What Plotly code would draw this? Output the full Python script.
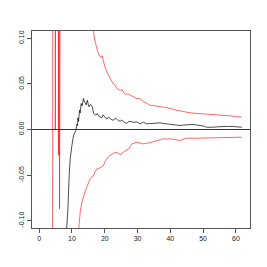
import plotly.graph_objects as go

# running estimate (black)
est_x = [8.0, 8.75, 9.15, 9.45, 9.97, 10.46, 11.2, 11.5, 11.7, 11.8, 12.0, 12.3, 12.5, 12.8, 13.1, 13.5, 13.8, 14.0, 14.3, 14.7, 15.0, 15.2, 15.6, 16.1, 16.4, 16.6, 17.3, 17.7, 18.1, 18.6, 19.1, 19.5, 19.9, 20.6, 21.1, 21.6, 22.2, 22.7, 23.2, 23.7, 24.2, 24.7, 25.2, 25.7, 26.2, 26.7, 27.2, 27.7, 28.7, 29.8, 30.8, 31.8, 32.8, 33.8, 34.8, 35.9, 36.9, 37.9, 38.9, 40.0, 40.9, 42.0, 43.0, 44.0, 45.0, 46.0, 47.0, 48.0, 49.1, 50.1, 51.1, 52.1, 53.1, 54.6, 56.2, 57.7, 59.2, 60.5, 61.8]
est_y = [-0.13, -0.087, -0.050, -0.032, -0.0175, -0.0066, -0.001, 0.006, 0.0044, 0.0128, 0.009, 0.0212, 0.018, 0.0285, 0.026, 0.034, 0.030, 0.0296, 0.027, 0.0321, 0.027, 0.0249, 0.0275, 0.026, 0.021, 0.0175, 0.0157, 0.0175, 0.015, 0.014, 0.0128, 0.016, 0.0139, 0.0113, 0.0135, 0.012, 0.0105, 0.0102, 0.0125, 0.0113, 0.0095, 0.0091, 0.0105, 0.0084, 0.0075, 0.0066, 0.0085, 0.0091, 0.0078, 0.0084, 0.0062, 0.008, 0.0062, 0.0066, 0.0062, 0.0068, 0.0073, 0.0066, 0.0062, 0.0058, 0.0051, 0.0048, 0.0044, 0.0049, 0.0051, 0.0055, 0.0055, 0.005, 0.0047, 0.0038, 0.0025, 0.0024, 0.0025, 0.003, 0.0036, 0.0034, 0.0033, 0.003, 0.0025]

# upper band (red)
up_x = [4.0, 4.2, 4.88, 4.93, 4.98, 16.4, 16.55, 16.9, 17.3, 17.8, 18.3, 18.9, 19.2, 19.5, 20.0, 20.6, 21.4, 22.2, 23.0, 23.7, 24.2, 24.7, 25.2, 25.7, 26.2, 27.0, 27.7, 28.7, 29.8, 30.8, 31.8, 32.8, 33.8, 34.8, 35.9, 36.9, 37.9, 38.9, 40.0, 40.9, 42.0, 43.0, 44.0, 45.0, 46.0, 47.0, 48.0, 49.1, 50.6, 52.1, 53.6, 55.2, 56.7, 58.2, 60.0, 61.8]
up_y = [-0.6, 0.6, 0.6, 0.0, 0.6, 0.6, 0.1075, 0.099, 0.0924, 0.086, 0.0815, 0.079, 0.081, 0.0757, 0.069, 0.0633, 0.057, 0.0523, 0.049, 0.045, 0.044, 0.0428, 0.044, 0.0413, 0.0384, 0.039, 0.0376, 0.036, 0.034, 0.0337, 0.0304, 0.0288, 0.0266, 0.0263, 0.0258, 0.0252, 0.0248, 0.0245, 0.0232, 0.0219, 0.021, 0.0201, 0.0193, 0.0186, 0.0183, 0.0179, 0.0177, 0.0175, 0.017, 0.0164, 0.016, 0.0157, 0.0153, 0.015, 0.0142, 0.0135]

# lower band (red)
lo_x = [5.8, 5.87, 5.94, None, 6.1, 6.2, 6.3, 6.75, None, 11.9, 12.5, 13.0, 13.5, 14.0, 14.5, 15.0, 15.5, 16.0, 16.6, 17.1, 17.6, 18.1, 18.8, 19.6, 20.1, 20.6, 21.1, 21.6, 22.6, 23.7, 24.2, 24.7, 25.2, 25.7, 26.5, 27.2, 28.3, 29.0, 29.8, 30.8, 31.8, 32.8, 33.8, 34.8, 35.9, 36.9, 37.9, 39.0, 40.0, 41.5, 43.0, 44.0, 45.0, 47.0, 49.1, 50.6, 52.1, 53.6, 55.2, 56.7, 58.2, 60.0, 61.8]
lo_y = [0.6, -0.028, 0.6, None, 0.6, -0.087, -0.07, 0.6, None, -0.115, -0.0907, -0.08, -0.0724, -0.068, -0.0633, -0.058, -0.054, -0.052, -0.0504, -0.046, -0.0431, -0.043, -0.041, -0.0395, -0.035, -0.0321, -0.030, -0.0285, -0.026, -0.0249, -0.026, -0.0277, -0.026, -0.0249, -0.023, -0.0212, -0.0157, -0.0145, -0.0139, -0.015, -0.0157, -0.015, -0.0146, -0.0133, -0.0121, -0.011, -0.0102, -0.0104, -0.0102, -0.011, -0.0121, -0.0105, -0.0095, -0.0096, -0.0095, -0.0094, -0.0095, -0.0092, -0.0091, -0.0088, -0.0084, -0.0085, -0.0084]

x_ticks = [0, 10, 20, 30, 40, 50, 60]
y_ticks = [-0.10, -0.05, 0.00, 0.05, 0.10]

fig = go.Figure()
fig.add_trace(go.Scatter(x=up_x, y=up_y, mode="lines", line=dict(color="#ff0000", width=0.6), connectgaps=False, hoverinfo="skip"))
fig.add_trace(go.Scatter(x=lo_x, y=lo_y, mode="lines", line=dict(color="#ff0000", width=0.6), connectgaps=False, hoverinfo="skip"))
fig.add_trace(go.Scatter(x=est_x, y=est_y, mode="lines", line=dict(color="#000000", width=0.7), hoverinfo="skip"))
fig.add_hline(y=0, line=dict(color="#000000", width=0.8))

axis_common = dict(showgrid=False, zeroline=False, showline=True, linecolor="#555555", linewidth=1,
                   mirror=True, ticks="outside", ticklen=4, tickcolor="#555555", tickwidth=1,
                   tickfont=dict(family="Liberation Sans, Arial, sans-serif", size=7, color="#222222"))
fig.update_xaxes(range=[-2.2, 64.3], tickvals=x_ticks, ticktext=[str(v) for v in x_ticks], **axis_common)
fig.update_yaxes(range=[-0.108, 0.108], tickvals=y_ticks, ticktext=[f"{v:.2f}" for v in y_ticks], tickangle=-90, **axis_common)

fig.update_layout(width=267, height=267, margin=dict(l=32, r=17, t=31, b=39),
                  paper_bgcolor="white", plot_bgcolor="white", showlegend=False)

fig.write_html("out.html", config={"displayModeBar": False},
               post_script="document.body.style.margin='0';document.body.style.padding='0';")
